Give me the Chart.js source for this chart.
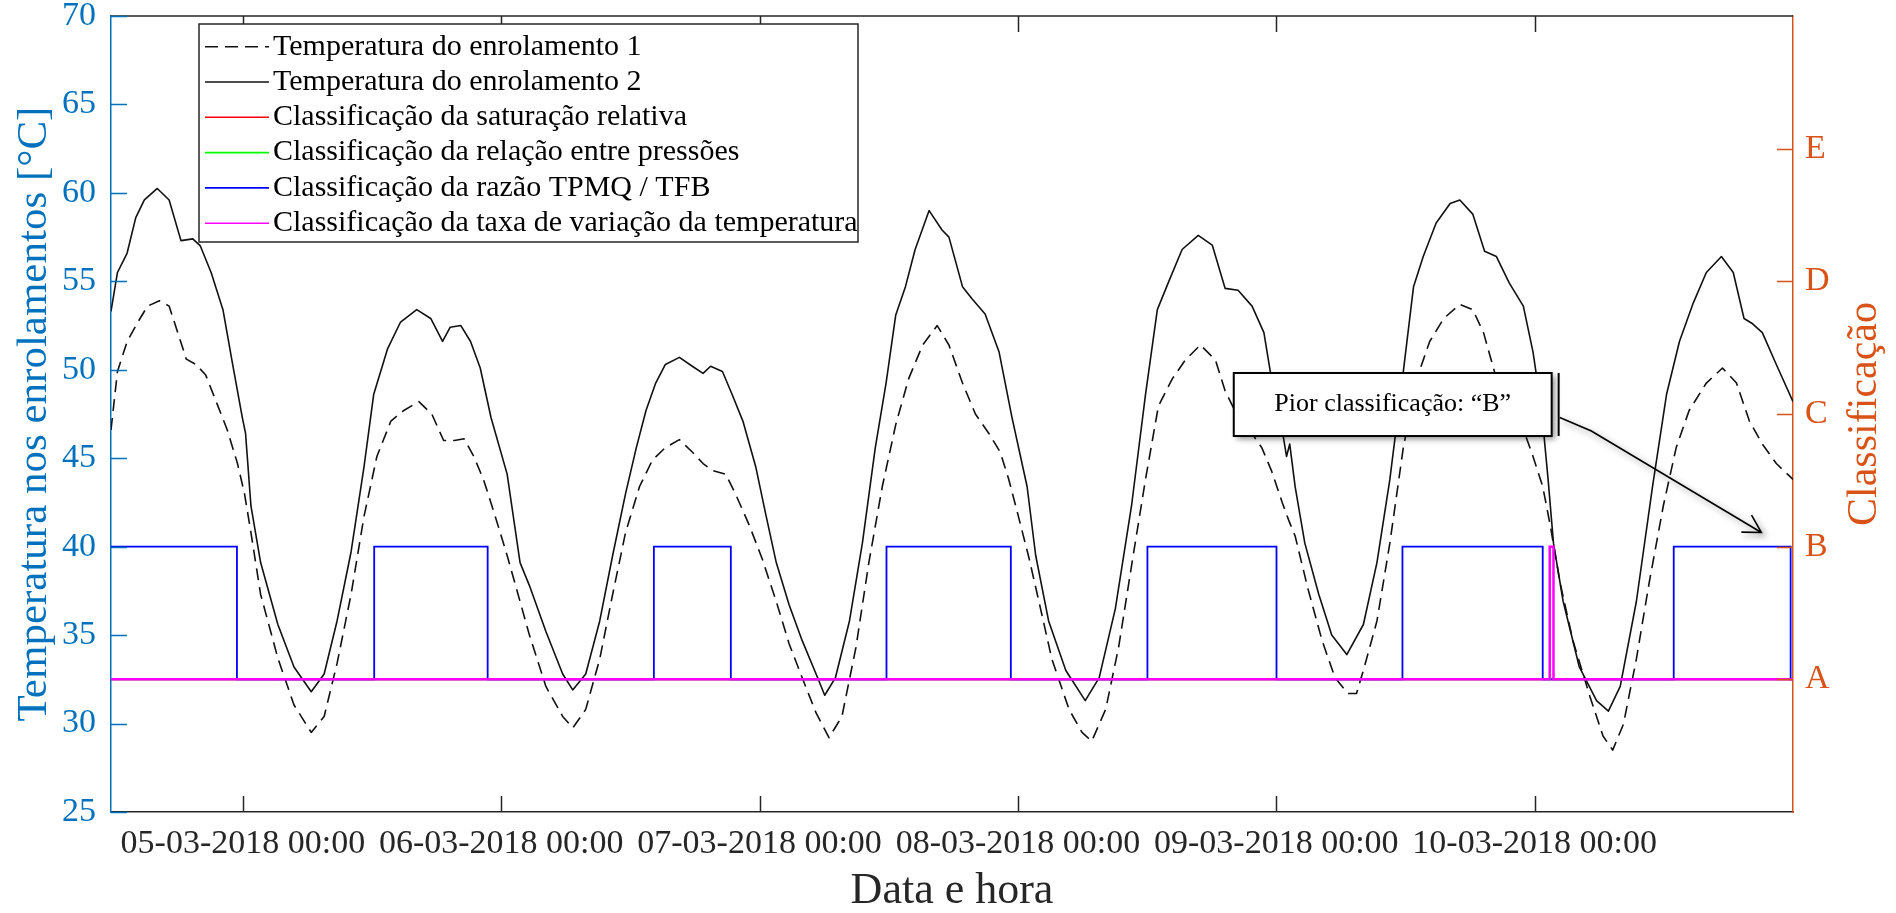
<!DOCTYPE html>
<html><head><meta charset="utf-8">
<script src="https://cdn.jsdelivr.net/npm/chart.js@4.4.1/dist/chart.umd.min.js"></script>
<style>html,body{margin:0;padding:0;background:#fff;overflow:hidden}#wrap{position:relative;width:1896px;height:913px}</style>
</head><body><div id="wrap"><canvas id="c"></canvas></div>
<script>
const FONT = "'Liberation Serif','Times New Roman',Times,serif";

// x axis: hours counted from 04-03-2018 00:00
const xMinHours = 11.75, xMaxHours = 168;
const xTickHours = [24, 48, 72, 96, 120, 144];
const xTickLabels = ['05-03-2018 00:00','06-03-2018 00:00','07-03-2018 00:00','08-03-2018 00:00','09-03-2018 00:00','10-03-2018 00:00'];
const classTickValues = [1, 2, 3, 4, 5];
const classTickLabels = ['A', 'B', 'C', 'D', 'E'];

const seriesLabels = [
  'Temperatura do enrolamento 1',
  'Temperatura do enrolamento 2',
  'Classificação da saturação relativa',
  'Classificação da relação entre pressões',
  'Classificação da razão TPMQ / TFB',
  'Classificação da taxa de variação da temperatura'
];

// Temperatura do enrolamento 1 (dashed)
const t1Hours = [11.75,12.35,13.25,14.25,15.15,16.25,17.15,17.95,18.75,19.65,20.55,21.65,22.55,23.5,24.15,24.75,25.65,27.25,28.75,30.35,31.55,32.75,34.05,35.25,36.45,37.75,38.95,40.35,41.55,42.65,43.65,44.55,45.45,46.35,47.35,48.55,49.75,
  50.62,52.15,53.71,54.65,55.85,57.15,58.35,59.55,60.85,62.05,63.25,64.55,65.75,66.75,67.65,68.85,69.75,71.05,72.25,73.55,74.75,75.95,77.25,78.45,79.65,80.95,82.15,83.4,84.65,85.85,87.15,88.5,
  89.59,90.85,92.05,93.3,94.35,95.15,96.05,97.05,97.95,99.15,100.75,101.95,102.85,104.15,105.35,106.6,107.85,109.05,110.35,111.55,112.95,114.35,115.25,116.15,117.45,118.65,119.55,120.55,121.15,121.75,122.95,124.25,125.45,126.65,127.45,
  128.09,129.35,130.55,131.8,133.05,134.25,135.55,137.05,138.25,139.25,140.45,141.65,142.95,143.85,144.75,145.45,146.35,147.55,149.15,150.35,151.25,152.25,153.45,154.65,155.95,157.15,158.35,159.95,161.45,162.75,163.95,165.15,166.45,168];
const t1Temps = [46.6,49.9,51.6,52.7,53.6,53.9,53.6,52.1,50.6,50.3,49.7,48.0,46.6,44.7,43.0,40.8,37.3,33.7,31.05,29.5,30.4,33.4,37.3,41.7,45.1,47.1,47.7,48.2,47.5,46.0,46.0,46.1,45.1,43.8,41.9,39.5,36.9,
  35.0,32.1,30.4,29.75,30.8,33.65,37.3,40.8,43.4,44.9,45.6,46.05,45.35,44.7,44.3,44.1,43.0,41.2,39.3,36.9,34.5,32.6,30.6,29.2,30.4,34.3,39.1,43.4,46.9,49.5,51.4,52.5,
  51.4,49.25,47.5,46.4,45.35,43.8,41.7,39.3,36.9,33.65,30.8,29.5,29.0,30.8,34.3,39.1,43.8,47.95,49.5,50.55,51.4,50.55,48.8,47.7,46.65,45.6,44.3,42.5,41.5,40.6,37.6,34.7,32.6,31.7,31.7,
  33.0,35.8,40.2,45.6,49.5,51.6,52.9,53.7,53.4,52.1,49.5,48.2,46.65,45.1,43.4,41.2,38.0,34.7,31.5,29.3,28.5,29.97,33.65,38.0,42.3,45.6,47.7,49.25,50.1,49.25,47.1,45.8,44.7,43.8];

// Temperatura do enrolamento 2 (solid)
const t2Hours = [11.75,12.35,13.25,14.05,14.85,16.05,17.15,18.25,19.35,20.05,21.05,22.15,23.05,23.95,24.25,24.75,25.65,27.25,28.75,30.35,31.55,32.75,34.05,35.25,36.15,37.45,38.65,40.15,41.45,42.55,43.25,44.25,45.15,46.05,47.05,48.55,49.75,
  50.62,52.15,53.71,54.64,55.85,57.15,58.35,59.55,60.55,61.45,62.35,63.25,64.55,65.75,66.75,67.45,68.55,69.45,70.45,71.65,72.55,73.55,74.75,75.95,77.25,78.05,79.05,80.35,81.55,82.75,83.75,84.65,85.55,86.45,87.75,88.95,
  89.59,90.85,91.75,92.95,94.25,95.45,96.85,97.65,98.85,100.45,102.25,103.55,105.05,106.55,107.85,108.95,109.95,111.25,112.75,114.05,115.25,116.45,117.75,118.85,119.55,120.55,120.95,121.25,121.75,122.65,123.95,125.15,126.55,
  128.09,129.35,130.55,131.8,132.75,133.65,134.85,136.15,137.05,138.25,139.35,140.45,141.65,142.95,143.85,144.65,145.25,145.75,146.65,148.15,149.75,150.85,151.95,153.45,154.95,156.25,157.45,158.75,159.95,161.35,162.45,163.45,164.25,165.15,166.45,168];
const t2Temps = [53.3,55.5,56.6,58.6,59.6,60.25,59.6,57.3,57.4,57.0,55.5,53.4,50.3,47.3,46.4,42.3,39.1,35.6,33.2,31.8,32.8,35.8,39.7,44.5,48.6,51.2,52.7,53.4,52.9,51.6,52.4,52.5,51.6,50.1,47.3,44.1,39.1,
  37.8,35.2,32.8,31.9,32.8,35.8,39.5,43.0,45.6,47.7,49.25,50.3,50.7,50.2,49.8,50.2,49.9,48.6,47.1,44.5,41.9,39.1,36.7,34.7,32.8,31.6,32.6,35.8,40.2,45.6,49.25,53.1,54.7,56.8,59.0,57.9,
  57.5,54.7,54.0,53.15,51.0,47.3,43.4,39.5,35.8,33.0,31.3,32.6,36.5,42.3,48.6,53.4,54.9,56.8,57.6,57.05,54.6,54.5,53.6,52.1,49.5,46.6,45.1,45.8,43.4,40.2,37.3,35.0,33.9,
  35.6,39.1,43.8,49.9,54.7,56.4,58.3,59.4,59.6,58.8,56.7,56.4,54.9,53.6,51.0,47.7,43.8,40.2,36.9,33.2,31.3,30.7,32.1,36.9,43.4,48.6,51.6,53.8,55.5,56.4,55.5,52.9,52.6,52.1,50.3,48.2];

// Classification series (1 = A, 2 = B); each value holds until the next time
const saturacaoHours = [11.75, 168];
const saturacaoClass = [1, 1];
const pressoesHours = [11.75, 168];
const pressoesClass = [1, 1];
const razaoHours = [11.75,23.45,36.2,46.74,62.18,69.33,83.79,95.34,108.03,120.02,131.72,144.75,156.92,167.78,168];
const razaoClass = [2,1,2,1,2,1,2,1,2,1,2,1,2,1,1];
const taxaHours = [11.75,145.4,145.75,168];
const taxaClass = [1,2,1,1];

// Annotation anchor (x in hours, y in classification units)
const noteText = 'Pior classificação: \u201CB\u201D';
const noteBox = {x0: 116.05, x1: 145.58, yTop: 3.309, yBottom: 2.834};
const noteBarX = 146.23;
const noteArrowX = [146.33, 149.27, 165.06];
const noteArrowY = [2.974, 2.872, 2.107];

const pts = (xs, ys) => xs.map((v, i) => ({x: v, y: ys[i]}));

const decor = {
  id: 'decor',
  afterDatasetsDraw(chart) {
    const {ctx, chartArea: a, scales} = chart;
    const sx = scales.x, sy = scales.y, sy2 = scales.y2;
    ctx.save();
    ctx.lineWidth = 1.5;
    ctx.strokeStyle = '#262626';
    ctx.beginPath();
    ctx.moveTo(a.left, a.top); ctx.lineTo(a.right, a.top);
    sx.ticks.forEach(t => {
      const p = Math.round(sx.getPixelForValue(t.value)) + 0.5;
      ctx.moveTo(p, a.bottom); ctx.lineTo(p, a.bottom - 16);
      ctx.moveTo(p, a.top); ctx.lineTo(p, a.top + 16);
    });
    ctx.stroke();
    ctx.strokeStyle = '#0072BD';
    ctx.beginPath();
    sy.ticks.forEach(t => {
      const p = Math.round(sy.getPixelForValue(t.value)) + 0.5;
      ctx.moveTo(a.left, p); ctx.lineTo(a.left + 16, p);
    });
    ctx.stroke();
    ctx.strokeStyle = '#D95319';
    ctx.beginPath();
    sy2.ticks.forEach(t => {
      const p = Math.round(sy2.getPixelForValue(t.value)) + 0.5;
      ctx.moveTo(a.right, p); ctx.lineTo(a.right - 16, p);
    });
    ctx.stroke();
    ctx.restore();
  },
  afterDraw(chart) {
    const {ctx, chartArea: a, scales} = chart;
    const sx = scales.x, sy2 = scales.y2;
    ctx.save();
    // right axis title (reads bottom to top)
    ctx.translate(a.right + 83, (a.top + a.bottom) / 2);
    ctx.rotate(-Math.PI / 2);
    ctx.fillStyle = '#D95319';
    ctx.font = '42px ' + FONT;
    ctx.textAlign = 'center';
    ctx.textBaseline = 'alphabetic';
    ctx.fillText('Classificação', 0, 0);
    ctx.restore();

    // legend
    const L = {left: a.left + 88, top: a.top + 8, width: 659, height: 218, row0: 22.7, step: 35.3, l0: 6, l1: 70, tx: 74};
    ctx.save();
    ctx.fillStyle = '#fff';
    ctx.fillRect(L.left, L.top, L.width, L.height);
    ctx.strokeStyle = '#262626';
    ctx.lineWidth = 1.5;
    ctx.strokeRect(L.left, L.top, L.width, L.height);
    ctx.font = '30px ' + FONT;
    ctx.textBaseline = 'middle';
    ctx.textAlign = 'left';
    chart.data.datasets.forEach((ds, i) => {
      const cy = L.top + L.row0 + i * L.step;
      ctx.strokeStyle = ds.borderColor;
      ctx.lineWidth = 1.6;
      ctx.setLineDash(ds.borderDash ? [13, 7] : []);
      ctx.beginPath(); ctx.moveTo(L.left + L.l0, cy); ctx.lineTo(L.left + L.l1, cy); ctx.stroke();
      ctx.setLineDash([]);
      ctx.fillStyle = '#000';
      ctx.fillText(ds.label, L.left + L.tx, cy);
    });
    ctx.restore();

    // annotation
    const bx0 = sx.getPixelForValue(noteBox.x0), bx1 = sx.getPixelForValue(noteBox.x1);
    const by0 = sy2.getPixelForValue(noteBox.yTop), by1 = sy2.getPixelForValue(noteBox.yBottom);
    ctx.save();
    ctx.shadowColor = 'rgba(0,0,0,0.45)';
    ctx.shadowBlur = 6; ctx.shadowOffsetX = 3; ctx.shadowOffsetY = 3;
    ctx.fillStyle = '#fff';
    ctx.fillRect(bx0, by0, bx1 - bx0, by1 - by0);
    ctx.strokeStyle = '#000';
    ctx.lineWidth = 1.6;
    const ax = noteArrowX.map(v => sx.getPixelForValue(v));
    const ay = noteArrowY.map(v => sy2.getPixelForValue(v));
    ctx.beginPath();
    ctx.moveTo(ax[0], ay[0]);
    for (let i = 1; i < ax.length; i++) ctx.lineTo(ax[i], ay[i]);
    const n = ax.length - 1;
    const ang = Math.atan2(ay[n] - ay[n - 1], ax[n] - ax[n - 1]);
    const hl = 20, spread = 0.52;
    ctx.moveTo(ax[n] - hl * Math.cos(ang - spread), ay[n] - hl * Math.sin(ang - spread));
    ctx.lineTo(ax[n], ay[n]);
    ctx.lineTo(ax[n] - hl * Math.cos(ang + spread), ay[n] - hl * Math.sin(ang + spread));
    ctx.stroke();
    ctx.shadowColor = 'transparent';
    ctx.lineWidth = 2;
    ctx.strokeRect(bx0, by0, bx1 - bx0, by1 - by0);
    const barX = sx.getPixelForValue(noteBarX);
    ctx.beginPath(); ctx.moveTo(barX, by0); ctx.lineTo(barX, by1); ctx.stroke();
    ctx.fillStyle = '#000';
    ctx.font = '26px ' + FONT;
    ctx.textAlign = 'center';
    ctx.textBaseline = 'middle';
    ctx.fillText(noteText, (bx0 + bx1) / 2, (by0 + by1) / 2);
    ctx.restore();
  }
};

const noPad = s => { s.paddingTop = 0; s.paddingBottom = 0; s.paddingLeft = 0; s.paddingRight = 0; };
const common = {pointRadius: 0, pointHoverRadius: 0, fill: false, tension: 0};
new Chart(document.getElementById('c'), {
  type: 'line',
  data: {
    datasets: [
      {...common, label: seriesLabels[0], data: pts(t1Hours, t1Temps), yAxisID: 'y', borderColor: '#111111', borderWidth: 1.6, borderDash: [12, 7], borderJoinStyle: 'round', order: 5},
      {...common, label: seriesLabels[1], data: pts(t2Hours, t2Temps), yAxisID: 'y', borderColor: '#111111', borderWidth: 1.6, borderJoinStyle: 'round', order: 4},
      {...common, label: seriesLabels[2], data: pts(saturacaoHours, saturacaoClass), yAxisID: 'y2', borderColor: '#ff0000', borderWidth: 2, stepped: 'before', order: 3},
      {...common, label: seriesLabels[3], data: pts(pressoesHours, pressoesClass), yAxisID: 'y2', borderColor: '#00ff00', borderWidth: 2, stepped: 'before', order: 2},
      {...common, label: seriesLabels[4], data: pts(razaoHours, razaoClass), yAxisID: 'y2', borderColor: '#0000ff', borderWidth: 1.8, stepped: 'before', order: 1},
      {...common, label: seriesLabels[5], data: pts(taxaHours, taxaClass), yAxisID: 'y2', borderColor: '#ff00ff', borderWidth: 2.5, stepped: 'before', order: 0}
    ]
  },
  options: {
    responsive: true,
    maintainAspectRatio: false,
    animation: false,
    devicePixelRatio: 1,
    layout: {padding: {top: 16, left: 0, right: 0, bottom: 0}},
    plugins: {legend: {display: false}, tooltip: {enabled: false}},
    events: [],
    scales: {
      x: {
        type: 'linear', position: 'bottom', min: xMinHours, max: xMaxHours,
        grid: {display: false, drawTicks: false},
        border: {display: true, color: '#262626', width: 1.5},
        afterBuildTicks: s => { s.ticks = xTickHours.map(v => ({value: v})); },
        ticks: {autoSkip: false, maxRotation: 0, minRotation: 0, padding: 15, color: '#262626',
          font: {family: FONT, size: 34, lineHeight: 1},
          callback: (v, i) => xTickLabels[i]},
        title: {display: true, text: 'Data e hora', color: '#262626', font: {family: FONT, size: 44, lineHeight: 1}, padding: {top: 0, bottom: 0}},
        afterFit: s => { s.height = 101; noPad(s); }
      },
      y: {
        type: 'linear', position: 'left', min: 25, max: 70,
        grid: {display: false, drawTicks: false},
        border: {display: true, color: '#0072BD', width: 1.5},
        ticks: {stepSize: 5, padding: 15, color: '#0072BD', font: {family: FONT, size: 34, lineHeight: 1}},
        title: {display: true, text: 'Temperatura nos enrolamentos [°C]', color: '#0072BD', font: {family: FONT, size: 43, lineHeight: 1}, padding: {top: 13, bottom: 0}},
        afterFit: s => { s.width = 111; noPad(s); }
      },
      y2: {
        type: 'linear', position: 'right', min: 0, max: 6,
        grid: {display: false, drawTicks: false, drawOnChartArea: false},
        border: {display: true, color: '#D95319', width: 1.5},
        afterBuildTicks: s => { s.ticks = classTickValues.map(v => ({value: v})); },
        ticks: {padding: 12, color: '#D95319', font: {family: FONT, size: 34, lineHeight: 1},
          callback: (v, i) => classTickLabels[i]},
        afterFit: s => { s.width = 103; noPad(s); }
      }
    }
  },
  plugins: [decor]
});
</script>
</body></html>
